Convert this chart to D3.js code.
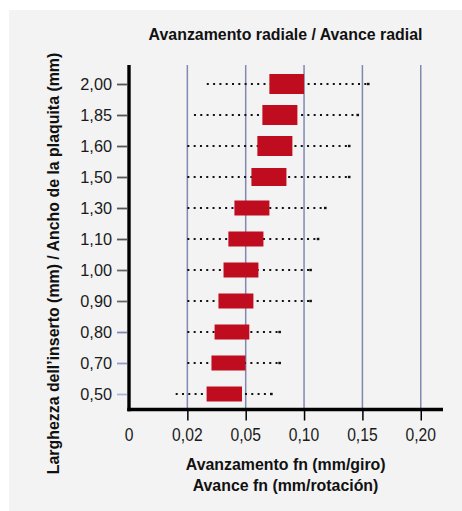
<!DOCTYPE html>
<html>
<head>
<meta charset="utf-8">
<script src="https://cdn.jsdelivr.net/npm/d3@7/dist/d3.min.js"></script>
<style>
  html, body { margin: 0; padding: 0; background: #ffffff; }
  svg { display: block; }
</style>
</head>
<body>
<script>
// ---- data ----
const widths = ["2,00", "1,85", "1,60", "1,50", "1,30", "1,10", "1,00", "0,90", "0,80", "0,70", "0,50"];
const feedMin   = [0.030, 0.0234, 0.020, 0.020, 0.020, 0.020, 0.020, 0.020, 0.020, 0.020, 0.016];
const feedMax   = [0.155, 0.146, 0.1387, 0.1387, 0.1182, 0.112, 0.1056, 0.1056, 0.0791, 0.0791, 0.072];
const recStart  = [0.0703, 0.0643, 0.060, 0.0549, 0.0442, 0.0411, 0.0386, 0.036, 0.034, 0.0324, 0.0299];
const recEnd    = [0.100, 0.0943, 0.090, 0.0849, 0.0703, 0.0652, 0.0609, 0.0566, 0.0531, 0.0499, 0.0481];
const xTicks    = [0, 0.02, 0.05, 0.10, 0.15, 0.20];
const xTickLabels = ["0", "0,02", "0,05", "0,10", "0,15", "0,20"];
const titleTop  = "Avanzamento radiale / Avance radial";
const xTitle1   = "Avanzamento fn (mm/giro)";
const xTitle2   = "Avance fn (mm/rotación)";
const yTitle    = "Larghezza dell’inserto (mm) / Ancho de la plaquita (mm)";

// ---- layout ----
const W = 462, H = 511;
const svg = d3.select("body").append("svg").attr("width", W).attr("height", H);
svg.append("rect").attr("x", 9).attr("y", 10).attr("width", W - 9).attr("height", H - 10).attr("fill", "#f3f3f3");

const x0 = 129, step = 58.35;
const x = d3.scaleLinear().domain(xTicks).range(xTicks.map((d, i) => x0 + i * step));
const y = d3.scalePoint().domain(widths).range([84, 394]);

const plotTop = 65, plotBottom = 409.5, axisRight = 443;
const sans = "'Liberation Sans', Arial, Helvetica, sans-serif";

// grid lines
svg.append("g").selectAll("line").data(xTicks.slice(1)).join("line")
  .attr("x1", d => x(d)).attr("x2", d => x(d))
  .attr("y1", plotTop).attr("y2", plotBottom)
  .attr("stroke", "#8089b0").attr("stroke-width", 1.5);

// x axis ticks
const xAxis = d3.axisBottom(x).tickValues(xTicks.slice(1)).tickSize(11).tickFormat("");
const gx = svg.append("g").attr("transform", `translate(0,${plotBottom})`).call(xAxis);
gx.select(".domain").remove();
gx.selectAll(".tick line").attr("stroke", "#000").attr("stroke-width", 1.5);
svg.append("g").selectAll("text").data(xTicks).join("text")
  .attr("transform", d => `translate(${x(d)},441) scale(0.87,1)`)
  .attr("text-anchor", "middle")
  .attr("font-family", sans).attr("font-size", 18).attr("fill", "#1a1a1a")
  .text((d, i) => xTickLabels[i]);

// y axis ticks
const tickColors = ["#555", "#555", "#555", "#555", "#555", "#555", "#666", "#666", "#7d88b8", "#8f9dc8", "#a9b5d8"];
const yAxis = d3.axisLeft(y).tickSize(10).tickPadding(5).tickFormat(d => d);
const gy = svg.append("g").attr("transform", `translate(127,0)`).call(yAxis);
gy.select(".domain").remove();
gy.selectAll(".tick line").attr("stroke", (d, i) => tickColors[i]).attr("stroke-width", 1.8);
gy.selectAll(".tick text").attr("font-family", sans).attr("font-size", 16.3).attr("fill", "#1a1a1a");

// dotted whiskers
const rows = widths.map((w, i) => ({ w, min: feedMin[i], max: feedMax[i], s: recStart[i], e: recEnd[i], i }));
svg.append("g").selectAll("line").data(rows).join("line")
  .attr("x1", d => x(d.min)).attr("x2", d => x(d.max))
  .attr("y1", d => y(d.w)).attr("y2", d => y(d.w))
  .attr("stroke", "#111").attr("stroke-width", 2)
  .attr("stroke-dasharray", "2 4.3");
svg.append("g").selectAll("rect").data(rows).join("rect")
  .attr("x", d => x(d.max) - 1.3).attr("y", d => y(d.w) - 1.2)
  .attr("width", 2.6).attr("height", 2.4).attr("fill", "#111");

// recommended range bars
const barH = i => (i < 3 ? 20 : i === 3 ? 18 : 15);
svg.append("g").selectAll("rect").data(rows).join("rect")
  .attr("x", d => x(d.s)).attr("width", d => x(d.e) - x(d.s))
  .attr("y", d => y(d.w) - barH(d.i) / 2).attr("height", d => barH(d.i))
  .attr("fill", "#c00c1f");

// axis lines (thick)
svg.append("line").attr("x1", 129).attr("x2", 129).attr("y1", plotTop).attr("y2", plotBottom + 1.7)
  .attr("stroke", "#000").attr("stroke-width", 3.4);
svg.append("line").attr("x1", 127.3).attr("x2", axisRight).attr("y1", plotBottom).attr("y2", plotBottom)
  .attr("stroke", "#000").attr("stroke-width", 3.6);

// titles
svg.append("text").attr("x", 285.5).attr("y", 40).attr("text-anchor", "middle")
  .attr("font-family", sans).attr("font-weight", "bold").attr("font-size", 15.9).attr("fill", "#111")
  .text(titleTop);
svg.append("text").attr("x", 285.7).attr("y", 470).attr("text-anchor", "middle")
  .attr("font-family", sans).attr("font-weight", "bold").attr("font-size", 15.9).attr("fill", "#111")
  .text(xTitle1);
svg.append("text").attr("x", 285.5).attr("y", 491).attr("text-anchor", "middle")
  .attr("font-family", sans).attr("font-weight", "bold").attr("font-size", 15.9).attr("fill", "#111")
  .text(xTitle2);
svg.append("text").attr("transform", "translate(59,263.5) rotate(-90)").attr("text-anchor", "middle")
  .attr("font-family", sans).attr("font-weight", "bold").attr("font-size", 15.9).attr("fill", "#111")
  .text(yTitle);
</script>
</body>
</html>
